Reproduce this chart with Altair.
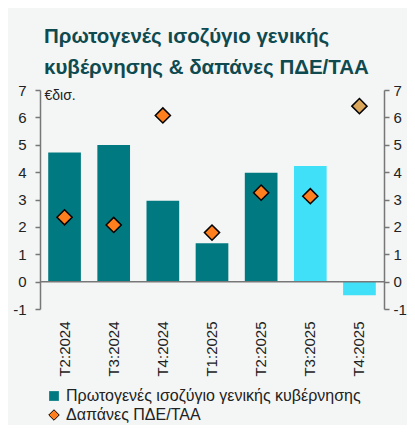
import altair as alt
import pandas as pd

quarters = ["T2:2024", "T3:2024", "T4:2024", "T1:2025", "T2:2025", "T3:2025", "T4:2025"]
balance = [4.72, 4.99, 2.95, 1.40, 3.98, 4.22, -0.50]
pde = [2.35, 2.07, 6.07, 1.79, 3.25, 3.12, 6.41]
bar_kind = ["Πρωτογενές ισοζύγιο γενικής κυβέρνησης"] * 5 + ["Πρωτογενές ισοζύγιο (πρόβλεψη)"] * 2
pde_kind = ["Δαπάνες ΠΔΕ/ΤΑΑ"] * 6 + ["Δαπάνες ΠΔΕ/ΤΑΑ (πρόβλεψη)"]
zero = [0]

bar_names = ["Πρωτογενές ισοζύγιο γενικής κυβέρνησης", "Πρωτογενές ισοζύγιο (πρόβλεψη)"]
pde_names = ["Δαπάνες ΠΔΕ/ΤΑΑ", "Δαπάνες ΠΔΕ/ΤΑΑ (πρόβλεψη)"]

df = pd.DataFrame({"q": quarters, "balance": balance, "pde": pde,
                   "bk": bar_kind, "pk": pde_kind})
zdf = pd.DataFrame({"z": zero})

FONT = "Liberation Sans"
AX = "#777777"
TXT = "#222222"
LBL = "datum.value < 0 ? '-' + abs(datum.value) : datum.label"

yscale = alt.Scale(domain=[-1, 7], nice=False, zero=False)
ticks = list(range(-1, 8))

x = alt.X("q:N", sort=quarters,
          scale=alt.Scale(paddingInner=0.335, paddingOuter=0.167),
          axis=alt.Axis(title=None, labelAngle=-90, labelFontSize=15, labelPadding=12,
                        ticks=False, domain=False, labelColor=TXT, labelFont=FONT))

bars = alt.Chart(df).mark_bar().encode(
    x=x,
    y=alt.Y("balance:Q", scale=yscale,
            axis=alt.Axis(orient="left", values=ticks, grid=False, domainColor=AX,
                          domainWidth=1.5, tickColor=AX, tickWidth=1.5, tickSize=5,
                          labelPadding=9, labelFontSize=15, labelColor=TXT, labelFont=FONT,
                          labelExpr=LBL,
                          title="€δισ.", titleAngle=0, titleX=4, titleY=-2, titleAlign="left",
                          titleBaseline="top", titleFontWeight="normal", titleFontSize=14,
                          titleFont=FONT, titleColor=TXT)),
    color=alt.Color("bk:N", scale=alt.Scale(domain=bar_names, range=["#007a80", "#40e0f8"]),
                    legend=alt.Legend(orient="none", legendX=6, legendY=298, title=None,
                                      values=[bar_names[0]], symbolType="square", symbolSize=95,
                                      symbolStrokeWidth=0, labelFontSize=16, labelFont=FONT,
                                      labelColor=TXT, labelLimit=500, labelOffset=4)),
)

zline = alt.Chart(zdf).mark_rule(color=AX, strokeWidth=1.5).encode(
    y=alt.Y("z:Q", scale=yscale, axis=None)
)

points = alt.Chart(df).mark_point(shape="diamond", filled=True, size=230, stroke="black",
                                  strokeWidth=1.5, opacity=1).encode(
    x=x,
    y=alt.Y("pde:Q", scale=yscale,
            axis=alt.Axis(orient="right", values=ticks, grid=False, domainColor=AX,
                          domainWidth=1.5, tickColor=AX, tickWidth=1.5, tickSize=5,
                          labelPadding=4, labelFontSize=15, labelColor=TXT, labelFont=FONT,
                          labelExpr=LBL, title=None)),
    color=alt.Color("pk:N", scale=alt.Scale(domain=pde_names, range=["#ff7f1e", "#d9a65a"]),
                    legend=alt.Legend(orient="none", legendX=6, legendY=317, title=None,
                                      values=[pde_names[0]], symbolType="diamond", symbolSize=110,
                                      symbolStrokeColor="black", symbolStrokeWidth=1,
                                      symbolOpacity=1, labelFontSize=16, labelFont=FONT,
                                      labelColor=TXT, labelLimit=500, labelOffset=4)),
)

chart = alt.layer(bars, zline, points).resolve_scale(
    y="independent", color="independent"
).properties(
    width=344, height=219,
    autosize=alt.AutoSizeParams(type="none"),
    padding={"left": 32, "top": 82, "right": 23, "bottom": 116},
    background="#f4f6f5",
    title=alt.TitleParams(["Πρωτογενές ισοζύγιο γενικής", "κυβέρνησης & δαπάνες ΠΔΕ/ΤΑΑ"],
                          anchor="start", frame="group", font=FONT, fontSize=20.5,
                          fontWeight="bold", color="#0e4a50", lineHeight=31,
                          baseline="alphabetic", offset=16, dx=4, dy=27),
).configure_view(stroke=None)

chart.save("out.html", embed_options={"renderer": "svg", "actions": False})
